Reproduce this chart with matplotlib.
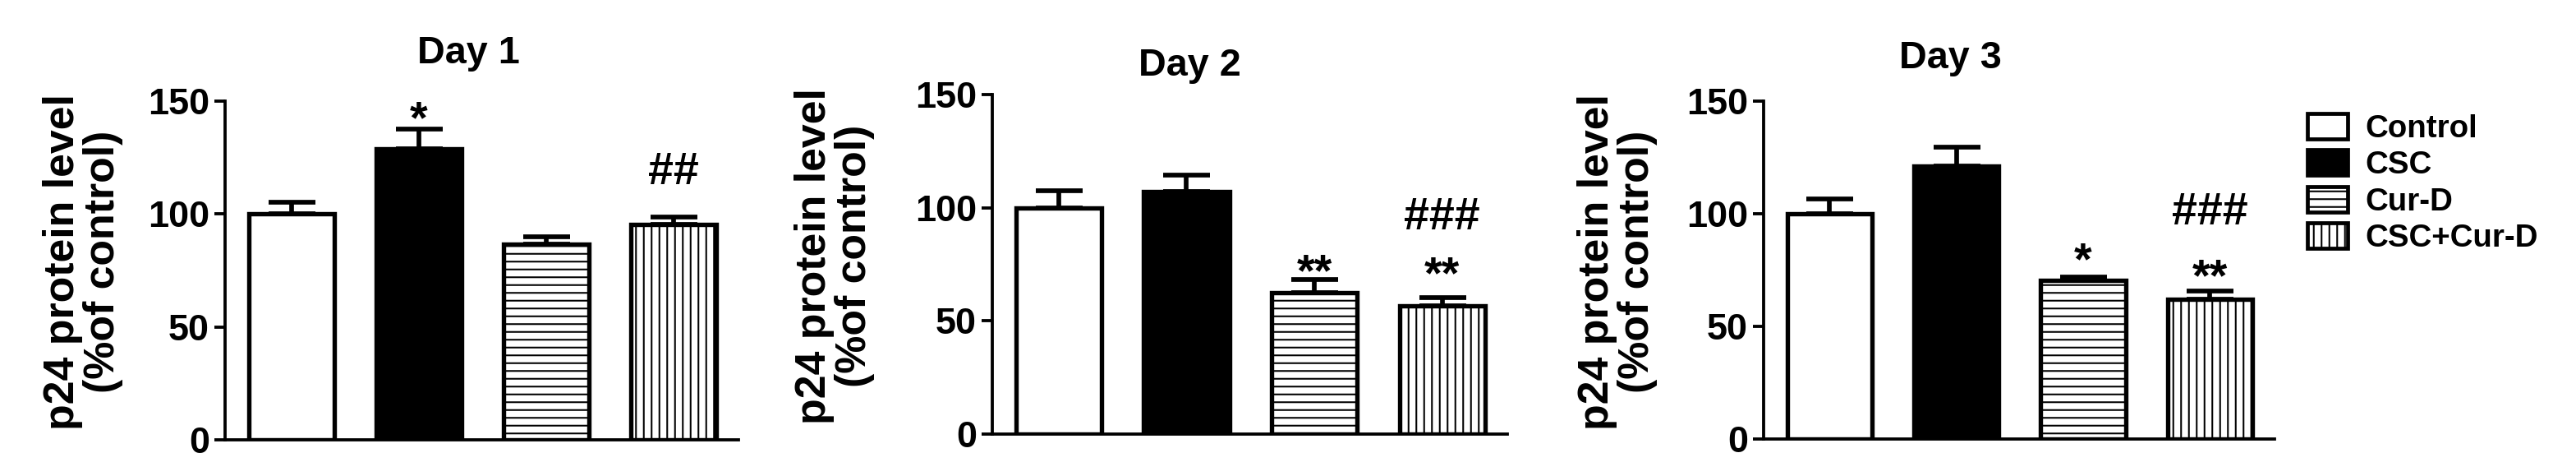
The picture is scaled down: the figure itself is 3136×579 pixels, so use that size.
import numpy as np
from matplotlib import pyplot as plt
from matplotlib.patches import Patch

plt.rcParams['font.family'] = ['Liberation Sans', 'DejaVu Sans']
plt.rcParams['font.weight'] = 'bold'
plt.rcParams['hatch.linewidth'] = 1.3
plt.rcParams['hatch.color'] = 'black'

groups = ['Control', 'CSC', 'Cur-D', 'CSC+Cur-D']
days = ['Day 1', 'Day 2', 'Day 3']
means = [
    [100, 128.9, 86.8, 95.3],
    [100, 107.3, 62.4, 56.6],
    [100, 121.0, 70.3, 62.2],
]
errors = [
    [5.4, 8.7, 3.1, 3.2],
    [7.6, 7.0, 5.8, 3.8],
    [6.7, 8.7, 1.7, 3.6],
]
# (bar index, text, y) significance marks per day
marks = [
    [(1, '*', 141.0), (3, '##', 118.3)],
    [(2, '**', 70.7), (3, '**', 69.6), (3, '###', 95.7)],
    [(2, '*', 78.5), (3, '**', 71.1), (3, '###', 100.5)],
]
yticks = [0, 50, 100, 150]

faces = ['white', 'black', 'white', 'white']
hatches = ['', '', '--', '||']

DPI = 114
W, H = 3136, 579
fig = plt.figure(figsize=(W / DPI, H / DPI), dpi=DPI)

# axes boxes in pixels: left, right, y of 0, y of 150 (from top)
boxes = [(274, 899, 535, 123), (1208, 1835, 528, 115), (2147, 2769, 534, 123)]
label_x = [-0.198, -0.228, -0.207]
title_pos = [(0.475, 1.141), (0.383, 1.085), (0.365, 1.127)]

x = np.arange(len(groups))
for i, day in enumerate(days):
    l, r, y0, y1 = boxes[i]
    ax = fig.add_axes([l / W, (H - y0) / H, (r - l) / W, (y0 - y1) / H])
    ax.bar(x, means[i], width=0.67, color=faces, hatch=hatches,
           edgecolor='black', linewidth=3.4, zorder=3)
    ax.errorbar(x, means[i], yerr=[np.zeros(4), errors[i]], fmt='none',
                ecolor='black', elinewidth=3.6, capsize=18, capthick=3.6,
                zorder=2)
    for j, txt, yy in marks[i]:
        ax.text(x[j], yy, txt, ha='center', va='center', fontsize=35,
                fontweight='bold')
    ax.set_xlim(-0.52, 3.51)
    ax.set_ylim(0, 150)
    ax.set_yticks(yticks)
    ax.set_xticks([])
    for s in ['top', 'right']:
        ax.spines[s].set_visible(False)
    ax.spines['left'].set_linewidth(2.4)
    ax.spines['bottom'].set_linewidth(2.4)
    ax.tick_params(axis='y', labelsize=28.4, width=2.4, length=8, pad=4)
    for t in ax.get_yticklabels():
        t.set_fontweight('bold')
    ax.set_ylabel('p24 protein level\n(%of control)', fontsize=32.8,
                  fontweight='bold', linespacing=1.0)
    ax.yaxis.set_label_coords(label_x[i], 0.525)
    tx, ty = title_pos[i]
    ax.set_title(day, x=tx, y=ty, va='center', fontsize=29.5,
                 fontweight='bold', pad=0)

handles = [Patch(facecolor=faces[k], hatch=hatches[k], edgecolor='black',
                 linewidth=3.0, label=groups[k]) for k in range(4)]
fig.legend(handles=handles, loc='upper left',
           bbox_to_anchor=(2809 / W, (H - 138) / H), frameon=False,
           handlelength=1.27, handleheight=0.86,
           handletextpad=0.57, labelspacing=0.2, borderpad=0,
           borderaxespad=0, prop={'weight': 'bold', 'size': 24.3})

fig.savefig('out.png', dpi=DPI)
